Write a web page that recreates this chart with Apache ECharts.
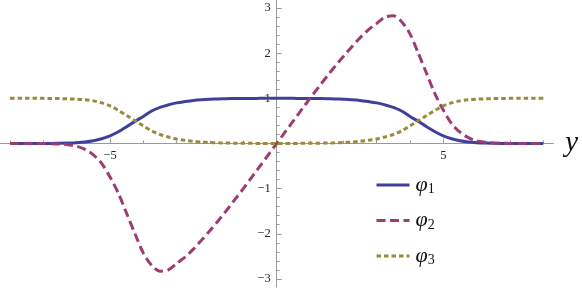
<!DOCTYPE html>
<html>
<head>
<meta charset="utf-8">
<script src="https://cdn.jsdelivr.net/npm/echarts@6/dist/echarts.min.js"></script>
<style>
  html, body { margin: 0; padding: 0; background: #fff; }
  #chart { width: 582px; height: 288px; }
</style>
</head>
<body>
<div id="chart"></div>
<script>
// ---- data ----
const xs = [-8, -7.75, -7.5, -7.25, -7, -6.75, -6.5, -6.25, -6, -5.75, -5.5, -5.25, -5, -4.75, -4.5, -4.25, -4, -3.75, -3.5, -3.25, -3, -2.75, -2.5, -2.25, -2, -1.75, -1.5, -1.25, -1, -0.75, -0.5, -0.25,
  0, 0.25, 0.5, 0.75, 1, 1.25, 1.5, 1.75, 2, 2.25, 2.5, 2.75, 3, 3.25, 3.5, 3.75, 4, 4.25, 4.5, 4.75, 5, 5.25, 5.5, 5.75, 6, 6.25, 6.5, 6.75, 7, 7.25, 7.5, 7.75, 8];

const phi1 = [0, 0, 0, 0, 0.001, 0.002, 0.005, 0.01, 0.019, 0.035, 0.062, 0.105, 0.17, 0.26, 0.37, 0.49, 0.60, 0.72, 0.80, 0.855, 0.90, 0.93, 0.955, 0.97, 0.98, 0.988, 0.993, 0.996, 0.998, 0.999, 1, 1,
  1, 1, 1, 0.999, 0.998, 0.996, 0.993, 0.988, 0.98, 0.97, 0.955, 0.93, 0.90, 0.855, 0.80, 0.72, 0.60, 0.49, 0.37, 0.26, 0.17, 0.105, 0.062, 0.035, 0.019, 0.01, 0.005, 0.002, 0.001, 0, 0, 0, 0];

const phi2 = [0, 0, 0, 0, -0.002, -0.005, -0.012, -0.03, -0.06, -0.13, -0.25, -0.44, -0.74, -1.1, -1.55, -2.0, -2.43, -2.70, -2.83, -2.80, -2.66, -2.52, -2.34, -2.14, -1.93, -1.71, -1.48, -1.24, -1.0, -0.75, -0.5, -0.25,
  0, 0.25, 0.5, 0.75, 1.0, 1.24, 1.48, 1.71, 1.93, 2.14, 2.34, 2.52, 2.66, 2.80, 2.83, 2.70, 2.43, 2.0, 1.55, 1.1, 0.74, 0.44, 0.25, 0.13, 0.06, 0.03, 0.012, 0.005, 0.002, 0, 0, 0, 0];

const phi3 = [1, 1, 1, 1, 1, 0.998, 0.995, 0.99, 0.982, 0.968, 0.945, 0.90, 0.835, 0.735, 0.62, 0.505, 0.39, 0.28, 0.20, 0.145, 0.10, 0.07, 0.047, 0.032, 0.022, 0.015, 0.01, 0.007, 0.005, 0.003, 0.002, 0.001,
  0, 0.001, 0.002, 0.003, 0.005, 0.007, 0.01, 0.015, 0.022, 0.032, 0.047, 0.07, 0.10, 0.145, 0.20, 0.28, 0.39, 0.505, 0.62, 0.735, 0.835, 0.90, 0.945, 0.968, 0.982, 0.99, 0.995, 0.998, 1, 1, 1, 1, 1];

const seriesNames = ['φ1', 'φ2', 'φ3'];
const xLabelTicks = [-5, 5];
const xMinorTicks = [-8, -7, -6, -5, -4, -3, -2, -1, 1, 2, 3, 4, 5, 6, 7, 8];
const yLabelTicks = [-3, -2, -1, 1, 2, 3];
const yMinorTicks = [-3, -2.8, -2.6, -2.4, -2.2, -2, -1.8, -1.6, -1.4, -1.2, -1, -0.8, -0.6, -0.4, -0.2,
  0.2, 0.4, 0.6, 0.8, 1, 1.2, 1.4, 1.6, 1.8, 2, 2.2, 2.4, 2.6, 2.8, 3];
const xRange = [-8.3, 8.3];
const yRange = [-3.18, 3.18];

// ---- layout ----
const GRID_W = 553.3, GRID_H = 287;
// distance (px) from grid's left/bottom edge to the value-0 line, derived from the ranges
const yAxisShift = -GRID_W * (0 - xRange[0]) / (xRange[1] - xRange[0]);
const xAxisShift = -GRID_H * (0 - yRange[0]) / (yRange[1] - yRange[0]);

const colors = ['#3f3f9c', '#9b3d72', '#9a8a3c'];
const axisGray = '#9a9a9a';
const serif = "'Liberation Serif', 'DejaVu Serif', serif";
const minus = v => String(v).replace('-', '\u2212');
const pairs = arr => xs.map((x, i) => [x, arr[i]]);

const gridBox = { left: 0, top: 0, width: GRID_W, height: GRID_H, outerBoundsMode: 'none', containLabel: false };

const chart = echarts.init(document.getElementById('chart'), null, { renderer: 'canvas' });
chart.setOption({
  animation: false,
  grid: [Object.assign({}, gridBox), Object.assign({}, gridBox)],
  xAxis: [
    {
      type: 'value', gridIndex: 0, min: xRange[0], max: xRange[1], position: 'bottom', offset: xAxisShift,
      axisLine: { onZero: false, lineStyle: { color: axisGray, width: 1 } },
      axisTick: { inside: true, length: 5, customValues: xLabelTicks, lineStyle: { color: axisGray } },
      axisLabel: { customValues: xLabelTicks, formatter: minus, margin: 6, fontFamily: serif, fontSize: 12.5, color: '#222' },
      splitLine: { show: false },
      name: 'y', nameLocation: 'end', nameGap: 12,
      nameTextStyle: { fontFamily: serif, fontStyle: 'italic', fontSize: 29, color: '#111', padding: [22, 0, 0, 0] }
    },
    {
      type: 'value', gridIndex: 1, min: xRange[0], max: xRange[1], position: 'bottom', offset: xAxisShift,
      axisLine: { show: false, onZero: false },
      axisTick: { inside: true, length: 3, customValues: xMinorTicks, lineStyle: { color: axisGray } },
      axisLabel: { show: false },
      splitLine: { show: false }
    }
  ],
  yAxis: [
    {
      type: 'value', gridIndex: 0, min: yRange[0], max: yRange[1], position: 'left', offset: yAxisShift,
      axisLine: { onZero: false, lineStyle: { color: axisGray, width: 1 } },
      axisTick: { inside: true, length: 5, customValues: yLabelTicks, lineStyle: { color: axisGray } },
      axisLabel: { customValues: yLabelTicks, formatter: minus, margin: 6, fontFamily: serif, fontSize: 12.5, color: '#222' },
      splitLine: { show: false }
    },
    {
      type: 'value', gridIndex: 1, min: yRange[0], max: yRange[1], position: 'left', offset: yAxisShift,
      axisLine: { show: false, onZero: false },
      axisTick: { inside: true, length: 3, customValues: yMinorTicks, lineStyle: { color: axisGray } },
      axisLabel: { show: false },
      splitLine: { show: false }
    }
  ],
  legend: {
    orient: 'vertical', left: 370, top: 169, height: 115,
    itemWidth: 33, itemHeight: 16, itemGap: 13,
    itemStyle: { opacity: 0 },
    lineStyle: { width: 3 },
    data: seriesNames,
    formatter: n => '{p|' + n[0] + '}{s|' + n.slice(1) + '}',
    textStyle: {
      rich: {
        p: { fontFamily: serif, fontStyle: 'italic', fontSize: 22, color: '#111', padding: [0, 0, 0, 1] },
        s: { fontFamily: serif, fontSize: 14, color: '#111', padding: [9, 0, 0, 0] }
      }
    }
  },
  series: [
    { name: seriesNames[0], type: 'line', xAxisIndex: 0, yAxisIndex: 0, data: pairs(phi1), showSymbol: false, symbol: 'none', smooth: 0.3,
      lineStyle: { color: colors[0], width: 3 }, itemStyle: { color: colors[0] } },
    { name: seriesNames[1], type: 'line', xAxisIndex: 0, yAxisIndex: 0, data: pairs(phi2), showSymbol: false, symbol: 'none', smooth: 0.3,
      lineStyle: { color: colors[1], width: 3, type: [9, 4.5] }, itemStyle: { color: colors[1] } },
    { name: seriesNames[2], type: 'line', xAxisIndex: 0, yAxisIndex: 0, data: pairs(phi3), showSymbol: false, symbol: 'none', smooth: 0.3,
      lineStyle: { color: colors[2], width: 3, type: [4.5, 3] }, itemStyle: { color: colors[2] } }
  ]
});
</script>
</body>
</html>
